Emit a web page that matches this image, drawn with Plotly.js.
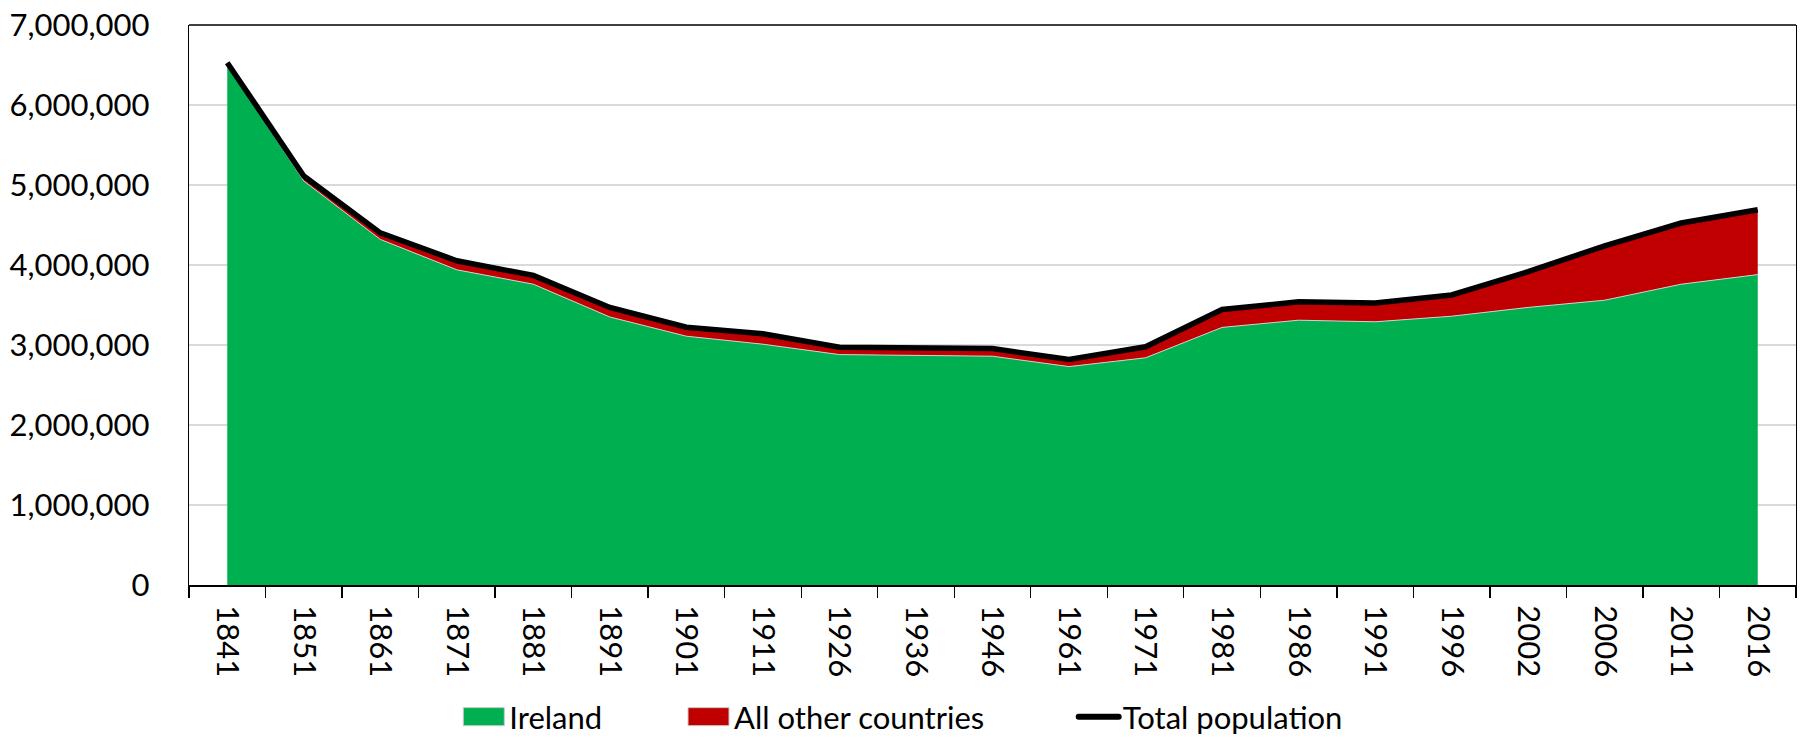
<!DOCTYPE html>
<html>
<head>
<meta charset="utf-8">
<script src="https://cdn.plot.ly/plotly-3.0.1.min.js"></script>
<style>
  html, body { margin: 0; padding: 0; background: #ffffff; }
  #chart { width: 1803px; height: 739px; }
</style>
</head>
<body>
<div id="chart"></div>
<script>
// Census years (category axis)
const years = ["1841","1851","1861","1871","1881","1891","1901","1911","1926","1936","1946",
               "1961","1971","1981","1986","1991","1996","2002","2006","2011","2016"];

// Population born in Ireland
const irelandBorn = [6490000, 5050000, 4320000, 3940000, 3760000, 3350000, 3110000, 3010000,
                     2880000, 2870000, 2860000, 2730000, 2840000, 3220000, 3310000, 3290000,
                     3360000, 3470000, 3560000, 3760000, 3880000];

// Population born in all other countries
const otherBorn = [39000, 62000, 82000, 113000, 110000, 119000, 112000, 130000,
                   92000, 98000, 95000, 88000, 138000, 223000, 231000, 236000,
                   266000, 447000, 680000, 765000, 810000];

// Total population
const totalPop = [6529000, 5112000, 4402000, 4053000, 3870000, 3469000, 3222000, 3140000,
                  2972000, 2968000, 2955000, 2818000, 2978000, 3443000, 3541000, 3526000,
                  3626000, 3917000, 4240000, 4525000, 4690000];

const FONT = "Lato, 'Open Sans', sans-serif";
const FS = 31;

const traces = [
  {
    type: "scatter", mode: "lines", name: "Ireland",
    x: years, y: irelandBorn, stackgroup: "pop",
    fillcolor: "#00b050", line: {color: "#cfcfcf", width: 1},
    legend: "legend", hoverinfo: "x+y+name"
  },
  {
    type: "scatter", mode: "lines", name: "All other countries",
    x: years, y: otherBorn, stackgroup: "pop",
    fillcolor: "#c00000", line: {color: "#cfcfcf", width: 1},
    legend: "legend2", hoverinfo: "x+y+name"
  },
  {
    type: "scatter", mode: "lines", name: "Total population",
    x: years, y: totalPop,
    line: {color: "#000000", width: 5.5},
    legend: "legend3", hoverinfo: "x+y+name"
  }
];

const W = 1803, H = 739;
const legendCommon = {
  orientation: "h", xref: "container", yref: "container",
  yanchor: "middle", xanchor: "left", y: 1 - 717 / H,
  itemwidth: 41,
  font: {family: FONT, size: FS, color: "#000000"},
  bgcolor: "rgba(0,0,0,0)", borderwidth: 0
};

const layout = {
  width: W, height: H,
  margin: {l: 189, r: 7, t: 25, b: 154, pad: 0},
  paper_bgcolor: "#ffffff", plot_bgcolor: "#ffffff",
  font: {family: FONT, size: FS, color: "#000000"},
  showlegend: true,
  legend: Object.assign({}, legendCommon, {x: 458.3 / W}),
  legend2: Object.assign({}, legendCommon, {x: 683 / W}),
  legend3: Object.assign({}, legendCommon, {x: 1071.7 / W}),
  xaxis: {
    type: "category", range: [-0.5, years.length - 0.5],
    showline: true, linecolor: "#000000", linewidth: 2,
    ticks: "outside", tickson: "boundaries", ticklen: 11, tickwidth: 1.3, tickcolor: "#000000",
    tickangle: 90, tickfont: {family: FONT, size: FS, color: "#000000"},
    ticklabelstandoff: 12,
    showgrid: false, zeroline: false, fixedrange: true
  },
  yaxis: {
    range: [0, 7000000], dtick: 1000000, tick0: 0, tickformat: ",d",
    showline: true, linecolor: "#000000", linewidth: 1.3, mirror: true,
    ticks: "", ticklabelstandoff: 32,
    tickfont: {family: FONT, size: FS, color: "#000000"},
    showgrid: true, gridcolor: "#d9d9d9", gridwidth: 1.3,
    zeroline: false, fixedrange: true
  },
  shapes: [
    {type: "line", xref: "paper", yref: "paper", x0: 0, x1: 1, y0: 1, y1: 1,
     line: {color: "#000000", width: 1.3}}
  ]
};

Plotly.newPlot("chart", traces, layout, {displayModeBar: false, staticPlot: true}).then(function (gd) {
  // Legend swatches styled like the original: filled boxes and a thick rounded line
  gd.querySelectorAll("g.traces").forEach(function (g) {
    const fill = g.querySelector("path.js-fill");
    const lines = g.querySelectorAll("path.js-line");
    if (fill) {
      fill.setAttribute("d", "M5,-9h41v18h-41z");
      fill.style.stroke = "#c8c8c8";
      fill.style.strokeWidth = "1px";
      lines.forEach(function (l) { l.style.display = "none"; });
    } else {
      lines.forEach(function (l) {
        l.setAttribute("d", "M7,0H47");
        l.style.strokeLinecap = "round";
        l.style.strokeWidth = "6px";
      });
    }
  });
});
</script>
</body>
</html>
